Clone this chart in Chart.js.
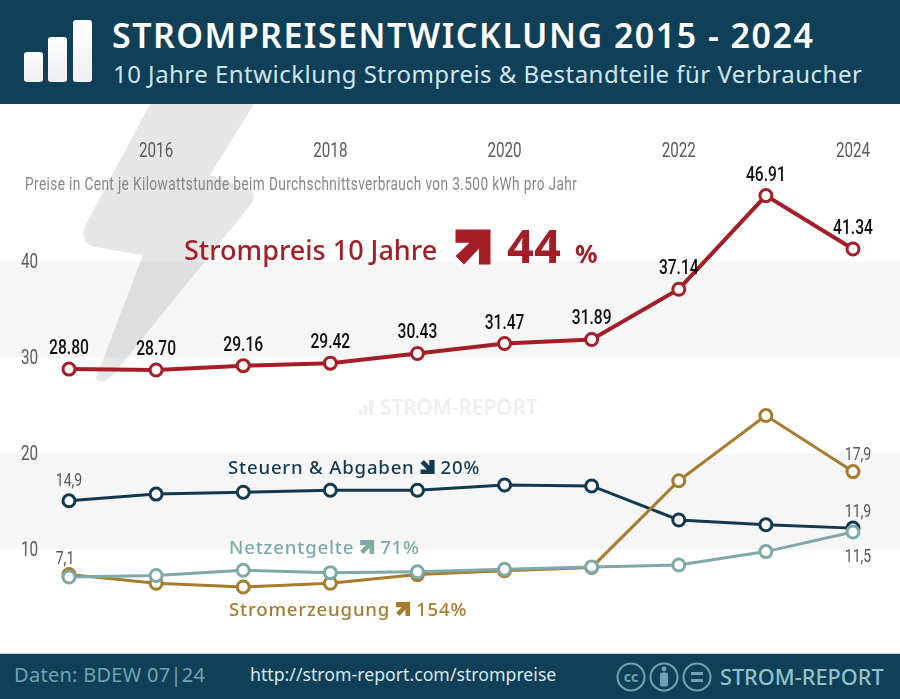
<!DOCTYPE html>
<html lang="de">
<head>
<meta charset="utf-8">
<title>Strompreisentwicklung 2015 - 2024</title>
<script src="https://cdn.jsdelivr.net/npm/chart.js@4"></script>
<style>
    html, body { margin: 0; padding: 0; background: #fff; overflow: hidden; }
    #page { position: relative; width: 900px; height: 699px; font-family: "Noto Sans", sans-serif; }
    #counterChart { position: absolute; left: 0; top: 0; }
    .bar-head { position: absolute; left: 0; width: 900px; background: #103f58; }
    .txt { position: absolute; white-space: nowrap; }
    .logo { position: absolute; bottom: 22px; width: 19px; border-radius: 3px; background: linear-gradient(#fff, #eeeef3); }
</style>
</head>
<body>
<div id="page">
    <canvas id="counterChart" width="900" height="699"></canvas>

    <!-- Kopfzeile -->
    <div class="bar-head" style="top:0;height:104px;">
        <div class="logo" style="left:24px;height:30px;"></div>
        <div class="logo" style="left:48px;height:45px;"></div>
        <div class="logo" style="left:73px;height:62px;"></div>
        <div class="txt" style="left:112px;top:12px;font-size:34px;font-weight:600;color:#fff;letter-spacing:1.48px;">STROMPREISENTWICKLUNG 2015 - 2024</div>
        <div class="txt" style="left:113px;top:57px;font-size:24px;color:#cfe6f0;letter-spacing:.47px;">10 Jahre Entwicklung Strompreis &amp; Bestandteile für Verbraucher</div>
    </div>

    <!-- Fusszeile -->
    <div class="bar-head" style="top:653px;height:46px;border-top:1px solid #bcd8df;box-sizing:border-box;">
        <div class="txt" style="left:14px;top:7px;font-size:20px;color:#6fa3b2;letter-spacing:.28px;">Daten: BDEW 07|24</div>
        <div class="txt" style="left:250px;top:8px;font-size:17.7px;color:#d9e8ed;">http://strom-report.com/strompreise</div>
        <svg style="position:absolute;left:612px;top:3px;" width="100" height="38" fill="none" stroke="#6fa3b2" stroke-width="2">
            <circle cx="19" cy="20" r="13.5"/><circle cx="52" cy="20" r="13.5"/><circle cx="85" cy="20" r="13.5"/>
            <text x="19" y="25" font-size="14" font-weight="700" text-anchor="middle" fill="#6fa3b2" stroke="none">cc</text>
            <circle cx="52" cy="12" r="2.4" fill="#6fa3b2" stroke="none"/>
            <rect x="48" y="15.5" width="8" height="14" rx="2" fill="#6fa3b2" stroke="none"/>
            <rect x="79" y="15" width="12" height="3" fill="#6fa3b2" stroke="none"/><rect x="79" y="22" width="12" height="3" fill="#6fa3b2" stroke="none"/>
        </svg>
        <div class="txt" style="left:720px;top:8px;font-size:21.7px;font-weight:500;color:#8fc1cd;">STROM-REPORT</div>
    </div>
</div>

<script>
// Daten
const jahre = ['2015', '2016', '2017', '2018', '2019', '2020', '2021', '2022', '2023', '2024'];
const jahrTicks = ['2016', '2018', '2020', '2022', '2024'];
const yTicks = [10, 20, 30, 40];

const strompreis = [28.80, 28.70, 29.16, 29.42, 30.43, 31.47, 31.89, 37.14, 46.91, 41.34];
const steuern = [15.05, 15.75, 15.95, 16.15, 16.15, 16.7, 16.6, 13.05, 12.55, 12.2];
const netzentgelte = [7.1, 7.25, 7.8, 7.55, 7.65, 7.9, 8.15, 8.35, 9.75, 11.8];
const stromerzeugung = [7.35, 6.45, 6.05, 6.45, 7.35, 7.75, 8.1, 17.15, 23.95, 18.1];

const strompreisLabels = ['28.80', '28.70', '29.16', '29.42', '30.43', '31.47', '31.89', '37.14', '46.91', '41.34'];

const ROT = '#a41e27';
const DUNKEL = '#12394f';
const TEAL = '#7ea9a9';
const GOLD = '#a67c2e';
const SCHMAL = 'Roboto, sans-serif';
const NORMAL = '"Noto Sans", sans-serif';

const canvas = document.getElementById('counterChart');
const context = canvas.getContext('2d');

// Es gibt keine Condensed-Schrift: Roboto-Texte horizontal stauchen
const originalFillText = context.fillText.bind(context);
context.fillText = function (text, x, y) {
    if (!context.font.includes('Roboto')) {
        originalFillText(text, x, y);
        return;
    }
    context.save();
    context.translate(x, y + 1.5);
    context.scale(0.78, 1);
    originalFillText(text, 0, 0);
    context.restore();
};

function linie(label, data, farbe, breite) {
    return {
        label: label,
        data: data,
        borderColor: farbe,
        borderWidth: breite,
        tension: 0,
        pointRadius: 6,
        pointBorderWidth: 3,
        pointBackgroundColor: '#fff',
        pointBorderColor: farbe
    };
}

// Pfeil nach rechts oben, wird fuer "runter" gedreht
function pfeil(ctx, x, y, s, farbe, runter) {
    ctx.save();
    ctx.translate(x, y);
    if (runter) ctx.rotate(Math.PI / 2);
    ctx.fillStyle = farbe;
    ctx.beginPath();
    ctx.moveTo(-s * 0.5, -s * 0.5);
    ctx.lineTo(s * 0.5, -s * 0.5);
    ctx.lineTo(s * 0.5, s * 0.5);
    ctx.lineTo(s * 0.17, s * 0.5);
    ctx.lineTo(s * 0.17, s * 0.05);
    ctx.lineTo(-s * 0.26, s * 0.5);
    ctx.lineTo(-s * 0.5, s * 0.26);
    ctx.lineTo(-s * 0.1, -s * 0.12);
    ctx.lineTo(-s * 0.5, -s * 0.12);
    ctx.closePath();
    ctx.fill();
    ctx.restore();
}

// Beschriftung einer Linie: Name, Pfeil, Prozent
function reihenText(ctx, x, y, name, prozent, farbe, runter) {
    ctx.font = '500 18.6px ' + NORMAL;
    ctx.letterSpacing = '0.8px';
    ctx.fillStyle = farbe;
    ctx.fillText(name, x, y);
    const breite = ctx.measureText(name).width;
    pfeil(ctx, x + breite + 13, y - 7, 14, farbe, runter);
    ctx.fillText(prozent, x + breite + 26, y);
    ctx.letterSpacing = '0px';
}

// Baender und Blitz im Hintergrund
const hintergrund = {
    id: 'hintergrund',
    beforeDraw(chart) {
        const ctx = chart.ctx;
        const y = chart.scales.y;
        ctx.save();
        ctx.fillStyle = '#f6f6f7';
        ctx.fillRect(0, y.getPixelForValue(40), 900, y.getPixelForValue(30) - y.getPixelForValue(40));
        ctx.fillRect(0, y.getPixelForValue(20), 900, y.getPixelForValue(10) - y.getPixelForValue(20));

        ctx.fillStyle = 'rgba(60, 60, 65, 0.13)';
        ctx.beginPath();
        ctx.moveTo(150, 104);
        ctx.lineTo(254, 104);
        ctx.lineTo(210, 175);
        ctx.lineTo(250, 190);
        ctx.quadraticCurveTo(257, 194, 252, 203);
        ctx.lineTo(112, 376);
        ctx.quadraticCurveTo(100, 386, 96, 378);
        ctx.lineTo(143, 255);
        ctx.lineTo(95, 247);
        ctx.quadraticCurveTo(80, 243, 85, 226);
        ctx.closePath();
        ctx.fill();

        // Wasserzeichen
        ctx.fillStyle = '#eeeeef';
        ctx.fillRect(359, 409, 3, 6);
        ctx.fillRect(364, 405, 3, 10);
        ctx.fillRect(369, 400, 4, 15);
        ctx.font = '600 20.7px ' + NORMAL;
        ctx.textBaseline = 'alphabetic';
        ctx.fillText('STROM-REPORT', 380, 415);
        ctx.restore();
    }
};

// Werte und Texte ueber den Linien
const beschriftung = {
    id: 'beschriftung',
    afterDatasetsDraw(chart) {
        const ctx = chart.ctx;
        ctx.save();
        ctx.textBaseline = 'alphabetic';

        const rot = chart.getDatasetMeta(0).data;
        ctx.font = '500 20px ' + SCHMAL;
        ctx.fillStyle = '#111';
        ctx.textAlign = 'center';
        strompreisLabels.forEach((txt, i) => {
            ctx.fillText(txt, rot[i].x, rot[i].y - 16.5);
        });

        ctx.font = '18px ' + SCHMAL;
        ctx.fillStyle = '#555';
        const netz = chart.getDatasetMeta(1).data;
        const erz = chart.getDatasetMeta(2).data;
        const st = chart.getDatasetMeta(3).data;
        ctx.fillText('14,9', st[0].x, st[0].y - 16.5);
        ctx.fillText('7,1', netz[0].x - 4, netz[0].y - 14.5);
        ctx.fillText('17,9', erz[9].x + 5, erz[9].y - 13.5);
        ctx.fillText('11,9', st[9].x + 5, st[9].y - 12.5);
        ctx.fillText('11,5', netz[9].x + 5, netz[9].y + 28.5);

        ctx.textAlign = 'left';
        ctx.font = '17.5px ' + SCHMAL;
        ctx.letterSpacing = '0.5px';
        ctx.fillStyle = '#868686';
        ctx.fillText('Preise in Cent je Kilowattstunde beim Durchschnittsverbrauch von 3.500 kWh pro Jahr', 25, 188.5);
        ctx.letterSpacing = '0px';

        ctx.font = '500 27px ' + NORMAL;
        ctx.fillStyle = ROT;
        ctx.fillText('Strompreis 10 Jahre', 184, 260);
        pfeil(ctx, 473, 247, 35, ROT, false);
        ctx.font = '700 47px ' + NORMAL;
        ctx.fillText('44', 507, 263);
        ctx.font = '700 25px ' + NORMAL;
        ctx.fillText('%', 575, 263);

        reihenText(ctx, 228, 474, 'Steuern & Abgaben', '20%', DUNKEL, true);
        reihenText(ctx, 229, 554, 'Netzentgelte', '71%', TEAL, false);
        reihenText(ctx, 229, 616, 'Stromerzeugung', '154%', GOLD, false);
        ctx.restore();
    }
};

new Chart(canvas, {
    type: 'line',
    data: {
        labels: jahre,
        // erster Datensatz liegt in Chart.js oben
        datasets: [
            linie('Strompreis', strompreis, ROT, 4),
            linie('Netzentgelte', netzentgelte, TEAL, 3),
            linie('Stromerzeugung', stromerzeugung, GOLD, 3),
            linie('Steuern & Abgaben', steuern, DUNKEL, 3)
        ]
    },
    options: {
        responsive: false,
        animation: false,
        layout: { padding: { left: 0, right: 47, top: 0, bottom: 54 } },
        plugins: { legend: { display: false }, tooltip: { enabled: false } },
        scales: {
            x: {
                position: 'top',
                afterFit(scale) { scale.height = 166; },
                grid: { display: false, drawTicks: false },
                border: { display: false },
                ticks: {
                    autoSkip: false,
                    maxRotation: 0,
                    padding: 4,
                    color: '#5b5b5b',
                    font: { family: SCHMAL, size: 19.5 },
                    callback(value) {
                        const jahr = this.getLabelForValue(value);
                        return jahrTicks.includes(jahr) ? jahr : '';
                    }
                }
            },
            y: {
                min: 0,
                max: 50,
                afterFit(scale) { scale.width = 69; },
                grid: { display: false, drawTicks: false },
                border: { display: false },
                ticks: {
                    stepSize: 10,
                    padding: 31,
                    color: '#5b5b5b',
                    font: { family: SCHMAL, size: 19.5 },
                    callback(value) { return yTicks.includes(value) ? value : ''; }
                }
            }
        }
    },
    plugins: [hintergrund, beschriftung]
});
</script>
</body>
</html>
